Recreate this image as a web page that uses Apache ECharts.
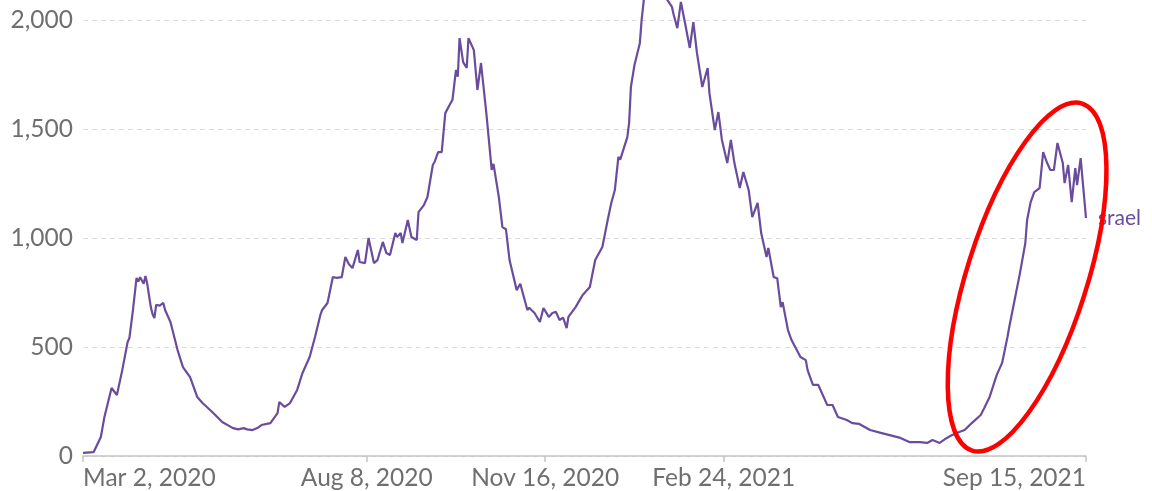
<!DOCTYPE html>
<html><head><meta charset="utf-8">
<script src="https://cdn.jsdelivr.net/npm/echarts@6/dist/echarts.min.js"></script>
<style>html,body{margin:0;padding:0;background:#fff}#c{width:1152px;height:491px}</style>
</head><body><div id="c"></div>
<script>
const dates = ['2020-03-02','2020-03-08','2020-03-12','2020-03-14','2020-03-18','2020-03-21','2020-03-24','2020-03-27','2020-03-28','2020-03-30',
'2020-04-01','2020-04-02','2020-04-03','2020-04-05','2020-04-06','2020-04-07','2020-04-09','2020-04-10','2020-04-11','2020-04-12',
'2020-04-14','2020-04-16','2020-04-17','2020-04-20','2020-04-24','2020-04-27','2020-05-01','2020-05-05','2020-05-08','2020-05-14',
'2020-05-19','2020-05-25','2020-05-28','2020-05-31','2020-06-02','2020-06-05','2020-06-08','2020-06-10','2020-06-15','2020-06-19',
'2020-06-20','2020-06-23','2020-06-26','2020-06-30','2020-07-03','2020-07-07','2020-07-10','2020-07-13','2020-07-14','2020-07-17',
'2020-07-20','2020-07-22','2020-07-25','2020-07-27','2020-07-29','2020-07-31','2020-08-03','2020-08-04','2020-08-07','2020-08-09',
'2020-08-12','2020-08-14','2020-08-17','2020-08-19','2020-08-21','2020-08-24','2020-08-25','2020-08-27','2020-08-28','2020-08-31',
'2020-09-02','2020-09-05','2020-09-06','2020-09-09','2020-09-11','2020-09-14','2020-09-15','2020-09-17','2020-09-19','2020-09-21',
'2020-09-24','2020-09-25','2020-09-27','2020-09-28','2020-09-29','2020-10-01','2020-10-03','2020-10-04','2020-10-07','2020-10-09',
'2020-10-11','2020-10-14','2020-10-17','2020-10-18','2020-10-21','2020-10-23','2020-10-25','2020-10-27','2020-10-31','2020-11-02',
'2020-11-06','2020-11-07','2020-11-10','2020-11-13','2020-11-15','2020-11-18','2020-11-20','2020-11-22','2020-11-24','2020-11-26',
'2020-11-28','2020-11-29','2020-12-03','2020-12-07','2020-12-11','2020-12-14','2020-12-18','2020-12-21','2020-12-23','2020-12-25',
'2020-12-27','2020-12-28','2021-01-01','2021-01-02','2021-01-03','2021-01-05','2021-01-08','2021-01-09','2021-01-11','2021-01-14',
'2021-01-16','2021-01-19','2021-01-22','2021-01-26','2021-01-27','2021-01-29','2021-01-31','2021-02-02','2021-02-05','2021-02-07',
'2021-02-09','2021-02-12','2021-02-15','2021-02-16','2021-02-19','2021-02-21','2021-02-23','2021-02-26','2021-02-28','2021-03-02',
'2021-03-05','2021-03-07','2021-03-10','2021-03-12','2021-03-15','2021-03-17','2021-03-20','2021-03-21','2021-03-24','2021-03-26',
'2021-03-28','2021-03-29','2021-04-01','2021-04-03','2021-04-08','2021-04-11','2021-04-12','2021-04-15','2021-04-18','2021-04-21',
'2021-04-23','2021-04-26','2021-04-29','2021-05-04','2021-05-07','2021-05-11','2021-05-17','2021-05-23','2021-05-28','2021-06-03',
'2021-06-08','2021-06-14','2021-06-18','2021-06-21','2021-06-25','2021-06-29','2021-07-02','2021-07-06','2021-07-09','2021-07-13',
'2021-07-18','2021-07-20','2021-07-23','2021-07-27','2021-07-30','2021-08-02','2021-08-03','2021-08-06','2021-08-09','2021-08-12',
'2021-08-13','2021-08-15','2021-08-16','2021-08-17','2021-08-20','2021-08-22','2021-08-24','2021-08-26','2021-08-28','2021-08-30',
'2021-09-02','2021-09-03','2021-09-05','2021-09-07','2021-09-09','2021-09-10','2021-09-12','2021-09-13','2021-09-14','2021-09-15'];
const values = [14,18,87,179,312,280,394,523,541,670,
817,800,820,790,826,790,683,650,633,693,
690,702,670,615,486,408,362,271,243,197,
156,128,122,128,122,119,130,142,151,197,
248,225,243,303,381,454,546,647,670,702,
821,817,821,913,880,862,945,890,885,1000,
885,899,982,931,922,1023,1005,1023,977,1083,
1005,991,1119,1151,1188,1335,1349,1394,1394,1573,
1619,1633,1771,1740,1917,1807,1780,1917,1862,1679,
1803,1573,1312,1340,1188,1050,1040,899,761,790,
670,680,656,615,679,638,656,661,624,635,
587,638,683,739,775,899,959,1083,1161,1220,
1372,1360,1463,1528,1693,1794,1894,2000,2150,2250,
2300,2250,2110,2060,2023,1963,2083,2000,1872,1991,
1850,1693,1780,1665,1495,1578,1450,1344,1450,1344,
1229,1303,1220,1096,1161,1023,913,954,821,815,
683,706,578,532,454,440,394,326,326,271,
234,234,179,165,151,147,119,106,96,83,
64,64,60,73,60,83,96,110,119,151,
188,220,271,372,427,546,592,716,839,977,
1083,1165,1160,1211,1229,1394,1349,1312,1312,1436,
1344,1252,1335,1165,1321,1243,1367,1275,1270,1092];
const tickDates = ['2020-03-02','2020-08-08','2020-11-16','2021-02-24','2021-09-15'];
const tickLabels = ['Mar 2, 2020','Aug 8, 2020','Nov 16, 2020','Feb 24, 2021','Sep 15, 2021'];
const yTicks = [0,500,1000,1500,2000];
const yVisibleMax = 2092;
const seriesLabel = 'srael';
const highlightCenter = ['2021-08-13', 821];

function ts(s){ const p = s.split('-').map(Number); return new Date(p[0], p[1]-1, p[2]).getTime(); }
const tickTs = tickDates.map(ts);
const FONT = 'Lato';
const GRAY = '#6f6f6f';
const PURPLE = '#6a4c9c';
const GRIDC = '#dcdcdc';

const chart = echarts.init(document.getElementById('c'), null, {renderer: 'canvas'});
chart.setOption({
  animation: false,
  backgroundColor: '#ffffff',
  grid: { left: 83, right: 66, top: 0, bottom: 35, containLabel: false },
  xAxis: {
    type: 'value',
    min: tickTs[0], max: tickTs[tickTs.length - 1],
    axisLine: { show: true, lineStyle: { color: '#c4c4c4', width: 1.5 } },
    axisTick: { show: true, customValues: tickTs, length: 6, lineStyle: { color: '#c4c4c4', width: 1.5 } },
    splitLine: { show: false },
    axisLabel: {
      customValues: tickTs,
      showMinLabel: true, showMaxLabel: true,
      alignMinLabel: 'left', alignMaxLabel: 'right',
      margin: 10,
      color: GRAY, fontFamily: FONT, fontSize: 24.5,
      formatter: function (v) {
        let best = 0, bd = Infinity;
        tickTs.forEach(function (t, i) { const d = Math.abs(t - v); if (d < bd) { bd = d; best = i; } });
        return tickLabels[best];
      }
    }
  },
  yAxis: {
    type: 'value', min: 0, max: yVisibleMax, interval: 500,
    axisLine: { show: false }, axisTick: { show: false },
    splitLine: { show: true, lineStyle: { color: yTicks.map(function(){return GRIDC;}).concat(['rgba(0,0,0,0)']), type: [5, 4], width: 1 } },
    axisLabel: {
      margin: 10, color: GRAY, fontFamily: FONT, fontSize: 24.5,
      showMaxLabel: false,
      formatter: function (v) { return yTicks.indexOf(v) >= 0 ? v.toLocaleString('en-US') : ''; }
    }
  },
  series: [{
    type: 'line',
    data: dates.map(function (d, i) { return [ts(d), values[i]]; }),
    showSymbol: false,
    lineStyle: { color: PURPLE, width: 2.2 },
    itemStyle: { color: PURPLE },
    clip: true,
    endLabel: { show: true, formatter: seriesLabel, color: PURPLE, fontFamily: FONT, fontSize: 21, distance: 12 }
  }]
});

const c = chart.convertToPixel({ gridIndex: 0 }, [ts(highlightCenter[0]), highlightCenter[1]]);
chart.setOption({
  graphic: [{
    type: 'ellipse',
    x: c[0], y: c[1],
    rotation: -0.307,
    shape: { cx: 0, cy: 0, rx: 60, ry: 182 },
    style: { fill: 'none', stroke: '#ff0000', lineWidth: 4.5 },
    z: 100
  }]
});
</script>
</body></html>
